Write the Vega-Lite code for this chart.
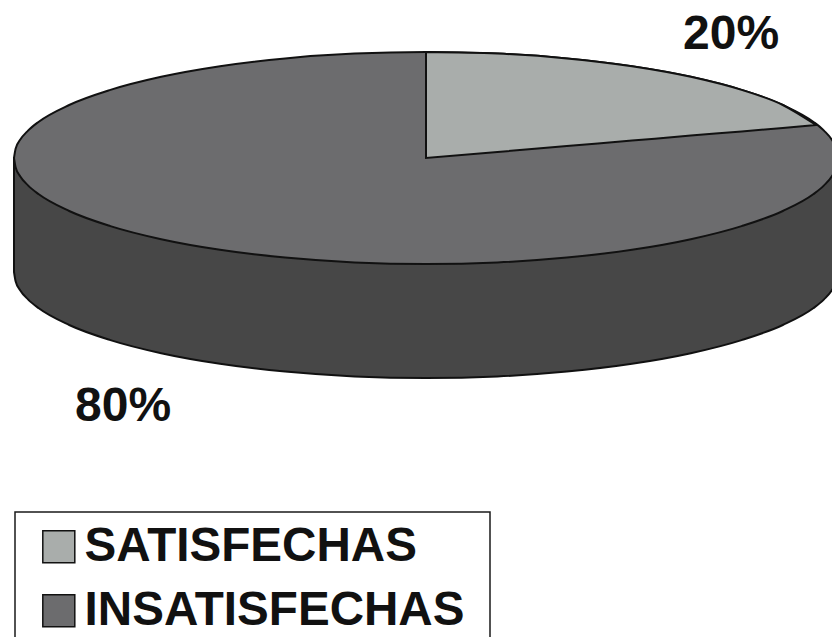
{
"$schema":"https://vega.github.io/schema/vega-lite/v6.json",
"width":832,"height":637,"padding":0,"autosize":{"type":"none"},
"background":"#ffffff",
"config":{"view":{"stroke":null}},
"datasets":{
"pared":[
{"x":14,"y":158,"y2":272},{"x":15.6,"y":158,"y2":281.2},{"x":20.3,"y":158,"y2":290.4},{"x":28,"y":158,"y2":299.4},{"x":38.8,"y":158,"y2":308.3},{"x":69.2,"y":158,"y2":325},{"x":110.4,"y":158,"y2":340.1},{"x":161.2,"y":158,"y2":353.2},{"x":220,"y":158,"y2":363.8},{"x":285.1,"y":158,"y2":371.6},{"x":354.5,"y":158,"y2":376.4},{"x":426,"y":158,"y2":378},{"x":497.5,"y":158,"y2":376.4},{"x":566.9,"y":158,"y2":371.6},{"x":632,"y":158,"y2":363.8},{"x":690.8,"y":158,"y2":353.2},{"x":741.6,"y":158,"y2":340.1},{"x":782.8,"y":158,"y2":325},{"x":813.2,"y":158,"y2":308.3},{"x":824,"y":158,"y2":299.4},{"x":831.7,"y":158,"y2":290.4},{"x":836.4,"y":158,"y2":281.2},{"x":838,"y":158,"y2":272}],
"tapa":[
{"grupo":"INSATISFECHAS","x":14,"y":158,"y2":158},{"grupo":"INSATISFECHAS","x":15.6,"y":148.8,"y2":167.2},{"grupo":"INSATISFECHAS","x":20.3,"y":139.6,"y2":176.4},{"grupo":"INSATISFECHAS","x":28,"y":130.6,"y2":185.4},{"grupo":"INSATISFECHAS","x":38.8,"y":121.7,"y2":194.3},{"grupo":"INSATISFECHAS","x":69.2,"y":105,"y2":211},{"grupo":"INSATISFECHAS","x":110.4,"y":89.9,"y2":226.1},{"grupo":"INSATISFECHAS","x":161.2,"y":76.8,"y2":239.2},{"grupo":"INSATISFECHAS","x":220,"y":66.2,"y2":249.8},{"grupo":"INSATISFECHAS","x":285.1,"y":58.4,"y2":257.6},{"grupo":"INSATISFECHAS","x":354.5,"y":53.6,"y2":262.4},{"grupo":"INSATISFECHAS","x":426,"y":52,"y2":264},{"grupo":"INSATISFECHAS","x":497.5,"y":53.6,"y2":262.4},{"grupo":"INSATISFECHAS","x":566.9,"y":58.4,"y2":257.6},{"grupo":"INSATISFECHAS","x":632,"y":66.2,"y2":249.8},{"grupo":"INSATISFECHAS","x":690.8,"y":76.8,"y2":239.2},{"grupo":"INSATISFECHAS","x":741.6,"y":89.9,"y2":226.1},{"grupo":"INSATISFECHAS","x":782.8,"y":105,"y2":211},{"grupo":"INSATISFECHAS","x":813.2,"y":121.7,"y2":194.3},{"grupo":"INSATISFECHAS","x":824,"y":130.6,"y2":185.4},{"grupo":"INSATISFECHAS","x":831.7,"y":139.6,"y2":176.4},{"grupo":"INSATISFECHAS","x":836.4,"y":148.8,"y2":167.2},{"grupo":"INSATISFECHAS","x":838,"y":158,"y2":158}],
"porcion":[
{"grupo":"SATISFECHAS","x":426,"y":52,"y2":158},{"grupo":"SATISFECHAS","x":497.5,"y":53.6,"y2":152},{"grupo":"SATISFECHAS","x":566.9,"y":58.4,"y2":146.1},{"grupo":"SATISFECHAS","x":632,"y":66.2,"y2":140.6},{"grupo":"SATISFECHAS","x":690.8,"y":76.8,"y2":135.6},{"grupo":"SATISFECHAS","x":741.6,"y":89.9,"y2":131.4},{"grupo":"SATISFECHAS","x":782.8,"y":105,"y2":127.9},{"grupo":"SATISFECHAS","x":816,"y":125,"y2":125}],
"etiquetas":[{"x":683,"y":49,"texto":"20%"},{"x":75,"y":421,"texto":"80%"}],
"caja":[{"x":15,"x2":490,"y":512,"y2":660}]
},
"layer":[
{"data":{"name":"caja"},"mark":{"type":"rect","filled":false,"stroke":"#1a1a1a","strokeWidth":1.5,"clip":true},
"encoding":{"x":{"field":"x","type":"quantitative","scale":{"domain":[0,832],"nice":false,"zero":false},"axis":null},"x2":{"field":"x2"},"y":{"field":"y","type":"quantitative","scale":{"domain":[637,0],"nice":false,"zero":false},"axis":null},"y2":{"field":"y2"}}},
{"data":{"name":"pared"},"mark":{"type":"area","color":"#474747","stroke":"#111111","strokeWidth":2,"clip":true,"interpolate":"monotone"},
"encoding":{"x":{"field":"x","type":"quantitative","scale":{"domain":[0,832],"nice":false,"zero":false},"axis":null},"y":{"field":"y","type":"quantitative","scale":{"domain":[637,0],"nice":false,"zero":false},"axis":null},"y2":{"field":"y2"}}},
{"data":{"name":"tapa"},"mark":{"type":"area","stroke":"#111111","strokeWidth":2,"clip":true,"opacity":1,"interpolate":"monotone"},
"encoding":{"x":{"field":"x","type":"quantitative","scale":{"domain":[0,832],"nice":false,"zero":false},"axis":null},"y":{"field":"y","type":"quantitative","scale":{"domain":[637,0],"nice":false,"zero":false},"axis":null},"y2":{"field":"y2"},
"color":{"field":"grupo","type":"nominal","scale":{"domain":["SATISFECHAS","INSATISFECHAS"],"range":["#a9adab","#6c6c6e"]},
"legend":{"title":null,"orient":"none","legendX":35,"legendY":523,"padding":0,"symbolType":"square","symbolSize":1024,"symbolStrokeColor":"#222222","symbolStrokeWidth":1.5,"symbolOpacity":1,"labelFont":"Liberation Sans","labelFontWeight":"bold","labelFontSize":47.6,"labelColor":"#111111","labelLimit":0,"labelOffset":2,"rowPadding":15,"offset":0}}}},
{"data":{"name":"porcion"},"mark":{"type":"area","stroke":"#111111","strokeWidth":2,"clip":true,"interpolate":"monotone"},
"encoding":{"x":{"field":"x","type":"quantitative","scale":{"domain":[0,832],"nice":false,"zero":false},"axis":null},"y":{"field":"y","type":"quantitative","scale":{"domain":[637,0],"nice":false,"zero":false},"axis":null},"y2":{"field":"y2"},"color":{"field":"grupo","type":"nominal"}}},
{"data":{"name":"etiquetas"},"mark":{"type":"text","align":"left","baseline":"alphabetic","font":"Liberation Sans","fontWeight":"bold","fontSize":48,"color":"#111111"},
"encoding":{"x":{"field":"x","type":"quantitative","scale":{"domain":[0,832],"nice":false,"zero":false},"axis":null},"y":{"field":"y","type":"quantitative","scale":{"domain":[637,0],"nice":false,"zero":false},"axis":null},"text":{"field":"texto","type":"nominal"}}}
]
}
